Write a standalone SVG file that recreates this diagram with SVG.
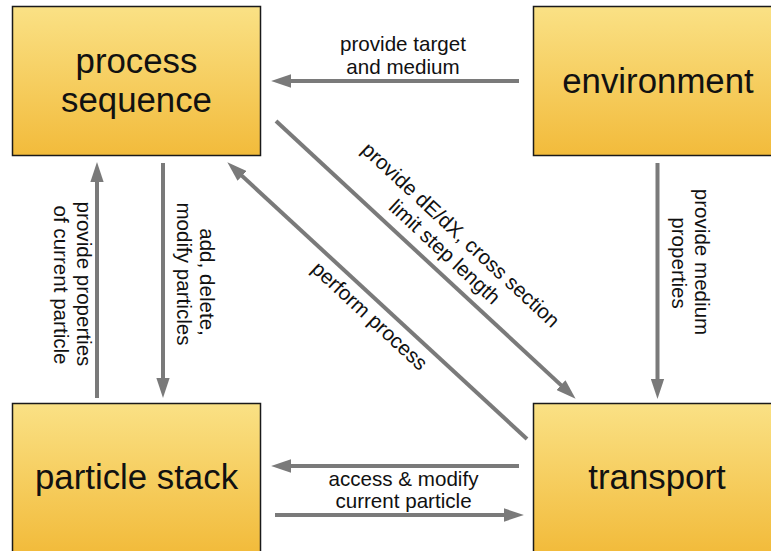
<svg xmlns="http://www.w3.org/2000/svg" width="771" height="551" viewBox="0 0 771 551">
<defs>
<linearGradient id="yg" x1="0" y1="0" x2="0" y2="1">
<stop offset="0" stop-color="#fae185"/>
<stop offset="1" stop-color="#f2bb3b"/>
</linearGradient>
<marker id="ah" markerUnits="userSpaceOnUse" markerWidth="20" markerHeight="14" refX="10" refY="6" orient="auto" viewBox="0 0 18 12">
<path d="M0,0 L18,6 L0,12 z" fill="#7a7a7a"/>
</marker>
<style>
.box{fill:url(#yg);stroke:#1a1a1a;stroke-width:1.5}
.bt{font-family:"Liberation Sans",Arial,sans-serif;font-size:34.8px;fill:#111;text-anchor:middle}
.lb{font-family:"Liberation Sans",Arial,sans-serif;font-size:20.6px;fill:#111;text-anchor:middle}
.c{fill:none;stroke:#7a7a7a;stroke-width:4;marker-end:url(#ah)}
</style>
</defs>
<rect width="771" height="551" fill="#fff"/>
<g id="process-sequence">
<rect class="box" x="12.5" y="6.5" width="248" height="149"/>
<text class="bt" x="136.5" y="73">process</text>
<text class="bt" x="136.5" y="112">sequence</text>
</g>
<g id="environment">
<rect class="box" x="533.5" y="6.5" width="248" height="149"/>
<text class="bt" x="658" y="93">environment</text>
</g>
<g id="particle-stack">
<rect class="box" x="12.5" y="403.5" width="248" height="149"/>
<text class="bt" x="136.5" y="489">particle stack</text>
</g>
<g id="transport">
<rect class="box" x="533.5" y="403.5" width="248" height="149"/>
<text class="bt" x="657" y="489">transport</text>
</g>
<g id="connectors">
<path class="c" d="M519,81 L280,81"/>
<path class="c" d="M276,121 L569.1,392.6"/>
<path class="c" d="M527,439 L233.9,168.4"/>
<path class="c" d="M519,466 L280,466"/>
<path class="c" d="M275,515 L515,515"/>
<path class="c" d="M97,398 L97,171"/>
<path class="c" d="M163,163 L163,389"/>
<path class="c" d="M657.5,163 L657.5,390"/>
</g>
<g id="labels">
<text class="lb" x="403" y="51">provide target</text>
<text class="lb" x="403" y="74">and medium</text>
<text class="lb" x="403.5" y="486">access &amp; modify</text>
<text class="lb" x="403.5" y="508">current particle</text>
<text class="lb" transform="translate(695,262) rotate(90)">provide medium</text>
<text class="lb" transform="translate(672,263) rotate(90)">properties</text>
<text class="lb" transform="translate(200,282) rotate(90)">add, delete,</text>
<text class="lb" transform="translate(177,274) rotate(90)">modify particles</text>
<text class="lb" transform="translate(77,284) rotate(90)">provide properties</text>
<text class="lb" transform="translate(54,285) rotate(90)">of current particle</text>
<text class="lb" transform="translate(456,240) rotate(42.8)">provide dE/dX, cross section</text>
<text class="lb" transform="translate(440,257) rotate(42.8)">limit step length</text>
<text class="lb" transform="translate(365,321) rotate(42.7)">perform process</text>
</g>
</svg>
